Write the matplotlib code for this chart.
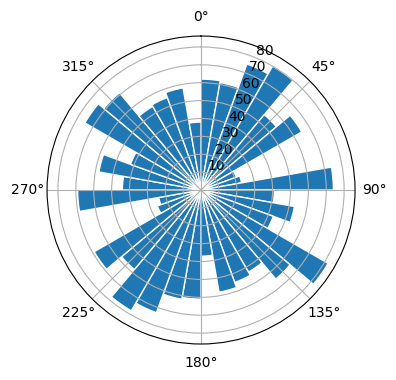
import numpy as np
import matplotlib
matplotlib.use("Agg")
import matplotlib.pyplot as plt

# bar start angles (deg) and radii
angles = list(range(0, 360, 10))
radii = [62, 61, 75, 80, 55, 65, 21, 23, 74,
         41, 53, 43, 82, 65, 53, 55, 58, 37,
         61, 62, 73, 78, 58, 69, 26, 24, 69,
         44, 58, 42, 75, 71, 54, 55, 58, 38]
bar_width = 10

fig = plt.figure(figsize=(3.96, 3.80), dpi=100)
ax = fig.add_axes([0.1187, 0.0947, 0.778, 0.8105], projection='polar')
ax.set_theta_zero_location('N')
ax.set_theta_direction(-1)

ax.bar(np.deg2rad(angles), radii, width=np.deg2rad(bar_width),
       align='edge', color='#1f77b4', edgecolor='white', linewidth=1)
ax.grid(True)

fig.savefig('out.png', dpi=100)
